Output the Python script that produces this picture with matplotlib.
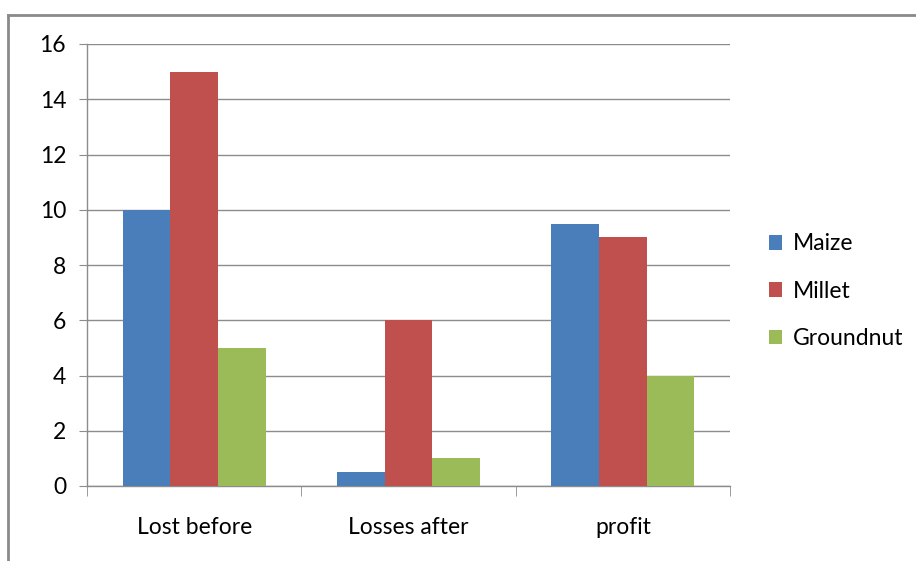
import matplotlib
matplotlib.use("Agg")
import matplotlib.pyplot as plt
from matplotlib.lines import Line2D
import numpy as np

categories = ["Lost before", "Losses after", "profit"]
series_names = ["Maize", "Millet", "Groundnut"]
maize = [10, 0.5, 9.5]
millet = [15, 6, 9]
groundnut = [5, 1, 4]
colors = ["#4a7ebb", "#c0504d", "#9bbb59"]

plt.rcParams["font.family"] = ["Lato", "DejaVu Sans"]
FS = 16.5

fig = plt.figure(figsize=(9.16, 5.61), dpi=100)
ax = fig.add_axes([87 / 916, 1 - 486 / 561, (730 - 87) / 916, (486 - 44) / 561])

x = np.arange(len(categories))
w = 0.222
for i, (vals, name, c) in enumerate(zip([maize, millet, groundnut], series_names, colors)):
    ax.bar(x + (i - 1) * w, vals, width=w, color=c, label=name, zorder=3)

ax.set_xlim(-0.5, len(categories) - 0.5)
ax.set_ylim(0, 16)
ax.set_yticks(range(0, 17, 2))
ax.yaxis.grid(True, color="#8c8c8c", lw=1.0, zorder=0)
ax.tick_params(axis="y", length=6, color="#8c8c8c", labelsize=FS, pad=9)

ax.set_xticks(x)
ax.set_xticklabels(categories, fontsize=FS)
ax.tick_params(axis="x", length=0, pad=22)
ax.set_xticks(np.arange(-0.5, len(categories)), minor=True)
ax.tick_params(axis="x", which="minor", length=7, color="#8c8c8c")

for s in ["top", "right"]:
    ax.spines[s].set_visible(False)
for s in ["left", "bottom"]:
    ax.spines[s].set_color("#8c8c8c")
    ax.spines[s].set_linewidth(1.0)

ax.legend(loc="center left", bbox_to_anchor=(0.839, 0.481), bbox_transform=fig.transFigure,
          frameon=False, fontsize=FS, handlelength=0.6, handleheight=0.6,
          handletextpad=0.45, labelspacing=1.15, borderpad=0, borderaxespad=0)

# chart area frame
fig.add_artist(Line2D([8 / 916, 1], [1 - 15 / 561] * 2, transform=fig.transFigure,
                      color="#8a8a8a", lw=2))
fig.add_artist(Line2D([8 / 916] * 2, [0, 1 - 15 / 561], transform=fig.transFigure,
                      color="#8a8a8a", lw=2))

fig.savefig("out.png", dpi=100)
